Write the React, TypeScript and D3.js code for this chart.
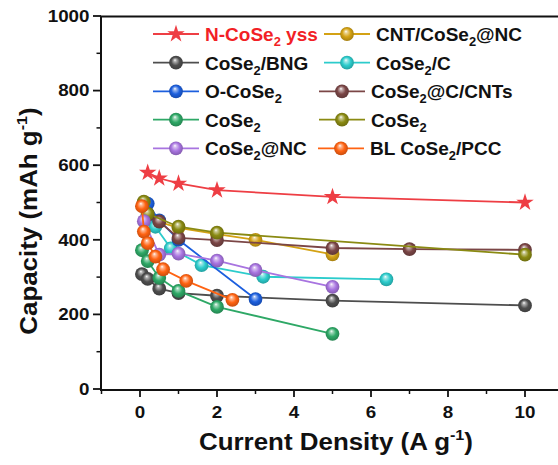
import React from "react";
import * as d3 from "d3";

// ---- data ----
const names = ["N-CoSe2 yss", "CNT/CoSe2@NC", "CoSe2/BNG", "CoSe2/C", "O-CoSe2", "CoSe2@C/CNTs", "CoSe2", "CoSe2 ", "CoSe2@NC", "BL CoSe2/PCC"];
const colors = ["#ee3e44", "#d4a214", "#4e4e4e", "#2ccccc", "#1c5fde", "#7b4646", "#2ea866", "#8a8a12", "#a874e0", "#ff6312"];

const xYss = [0.2, 0.5, 1, 2, 5, 10];
const yYss = [580, 565, 551, 533, 515, 500];
const xCnt = [0.1, 0.2, 0.5, 1, 2, 3, 5];
const yCnt = [500, 468, 448, 432, 415, 400, 361];
const xBng = [0.05, 0.2, 0.5, 1, 2, 5, 10];
const yBng = [308, 295, 269, 257, 250, 237, 224];
const xCC = [0.1, 0.2, 0.4, 0.8, 1.6, 3.2, 6.4];
const yCC = [495, 468, 435, 377, 332, 301, 294];
const xO = [0.2, 0.5, 1, 3];
const yO = [497, 452, 400, 241];
const xCnts = [0.2, 0.5, 1, 2, 5, 7, 10];
const yCnts = [466, 449, 405, 399, 378, 375, 373];
const xGreen = [0.05, 0.2, 0.5, 1, 2, 5];
const yGreen = [372, 343, 298, 263, 220, 148];
const xOlive = [0.1, 0.2, 1, 2, 10];
const yOlive = [502, 470, 435, 419, 360];
const xNC = [0.1, 0.5, 1, 2, 3, 5];
const yNC = [450, 360, 363, 344, 319, 274];
const xBL = [0.05, 0.1, 0.2, 0.4, 0.6, 1.2, 2.4];
const yBL = [490, 422, 391, 355, 321, 290, 239];

const xs = [xYss, xCnt, xBng, xCC, xO, xCnts, xGreen, xOlive, xNC, xBL];
const ys = [yYss, yCnt, yBng, yCC, yO, yCnts, yGreen, yOlive, yNC, yBL];

const xTicks = [0, 2, 4, 6, 8, 10];
const yTicks = [0, 200, 400, 600, 800, 1000];

// legend order (column-wise)
const legendOrder = [0, 2, 4, 6, 8, 1, 3, 5, 7, 9];

const FONT = "'Liberation Sans', Arial, Helvetica, sans-serif";

function Label({ text, size }: { text: string; size: number }) {
  const parts = text.trim().split(/(2)/);
  return (
    <>
      {parts.map((p, i) =>
        p === "2" ? (
          <tspan key={i} fontSize={size * 0.68} dy={size * 0.28}>2</tspan>
        ) : (
          <tspan key={i} dy={i > 0 && parts[i - 1] === "2" ? -size * 0.28 : 0}>{p}</tspan>
        )
      )}
    </>
  );
}

function Sym({ color, star, x, y, id }: { color: string; star: boolean; x: number; y: number; id: string }) {
  if (star) {
    const p = d3.symbol(d3.symbolStar, 95)();
    return <path d={p || ""} transform={`translate(${x},${y})`} fill={color} />;
  }
  return <circle cx={x} cy={y} r={6.9} fill={`url(#${id})`} />;
}

export default function App() {
  const W = 558, H = 465;
  const x = d3.scaleLinear().domain([-1, 11.5]).range([101.5, 582.75]);
  const y = d3.scaleLinear().domain([0, 1000]).range([389, 16]);
  const line = d3.line<[number, number]>().x(d => x(d[0])).y(d => y(d[1]));
  const xMinor = d3.range(-1, 11.5, 1).filter(v => v % 2 !== 0);
  const yMinor = d3.range(100, 1000, 200);
  const sxT = 1.08;
  const sxL = 1.0;

  return (
    <svg width={W} height={H} style={{ position: "absolute", left: 0, top: 0, background: "#fff" }} fontFamily={FONT}>
      <defs>
        {colors.map((c, i) => {
          const dark = d3.color(c)!.darker(0.8).formatHex();
          const light = d3.interpolateRgb(c, "#ffffff")(0.55);
          return (
            <radialGradient key={i} id={`g${i}`} cx="0.5" cy="0.5" r="0.55" fx="0.42" fy="0.3">
              <stop offset="0%" stopColor="#ffffff" />
              <stop offset="18%" stopColor={light} />
              <stop offset="55%" stopColor={c} />
              <stop offset="100%" stopColor={dark} />
            </radialGradient>
          );
        })}
      </defs>
      <rect width={W} height={H} fill="#fff" />

      {/* series */}
      {xs.map((xv, i) => {
        const pts = xv.map((v, j) => [v, ys[i][j]] as [number, number]);
        return (
          <g key={i}>
            <path d={line(pts) || ""} fill="none" stroke={colors[i]} strokeWidth={1.8} />
            {pts.map((p, j) => (
              <Sym key={j} color={colors[i]} star={i === 0} x={x(p[0])} y={y(p[1])} id={`g${i}`} />
            ))}
          </g>
        );
      })}

      {/* axes frame */}
      <line x1={101} x2={101} y1={16} y2={390} stroke="#111" strokeWidth={2} />
      <line x1={100} x2={W} y1={390} y2={390} stroke="#111" strokeWidth={2} />
      <line x1={100} x2={W} y1={16.5} y2={16.5} stroke="#111" strokeWidth={2} />

      {/* y ticks */}
      {yTicks.map(t => (
        <g key={t}>
          <line x1={93} x2={101} y1={y(t)} y2={y(t)} stroke="#111" strokeWidth={1.8} />
          <g transform={`translate(89.5,${y(t) + 5.8}) scale(1.16,1)`}>
            <text textAnchor="end" fontSize={16.2} fontWeight="bold" fill="#111">{t}</text>
          </g>
        </g>
      ))}
      {yMinor.map(t => (
        <line key={t} x1={96.5} x2={101} y1={y(t)} y2={y(t)} stroke="#111" strokeWidth={1.5} />
      ))}

      {/* x ticks */}
      {xTicks.map(t => (
        <g key={t}>
          <line x1={x(t)} x2={x(t)} y1={390} y2={397} stroke="#111" strokeWidth={1.8} />
          <g transform={`translate(${x(t)},${417.5}) scale(1.16,1)`}>
            <text textAnchor="middle" fontSize={16.2} fontWeight="bold" fill="#111">{t}</text>
          </g>
        </g>
      ))}
      {xMinor.map(t => (
        <line key={t} x1={x(t)} x2={x(t)} y1={390} y2={394} stroke="#111" strokeWidth={1.5} />
      ))}

      {/* axis titles */}
      <g transform={`translate(336,450) scale(${sxT},1)`}>
        <text textAnchor="middle" fontSize={24} fontWeight="bold" fill="#111">
          Current Density (A g<tspan fontSize={15} dy={-10}>-1</tspan><tspan dy={10}>)</tspan>
        </text>
      </g>
      <g transform={`translate(37,221) rotate(-90) scale(${sxT},1)`}>
        <text textAnchor="middle" fontSize={24} fontWeight="bold" fill="#111">
          Capacity (mAh g<tspan fontSize={15} dy={-10}>-1</tspan><tspan dy={10}>)</tspan>
        </text>
      </g>

      {/* legend */}
      {legendOrder.map((si, k) => {
        const col = k < 5 ? 0 : 1;
        const row = k % 5;
        const ry = [34, 62.7, 91.3, 119.7, 148.3][row];
        const x1 = col === 0 ? 153 : row < 2 ? 324 : row < 4 ? 319 : 318;
        const x2 = x1 + 46;
        const tx = x2 + 6;
        return (
          <g key={k}>
            <line x1={x1} x2={x2} y1={ry} y2={ry} stroke={colors[si]} strokeWidth={1.8} />
            <Sym color={colors[si]} star={si === 0} x={(x1 + x2) / 2} y={ry} id={`g${si}`} />
            <g transform={`translate(${tx},${ry + 6.8}) scale(${sxL},1)`}>
              <text fontSize={19} fontWeight="bold" fill={si === 0 ? "#f21f26" : "#111"}>
                <Label text={names[si]} size={19} />
              </text>
            </g>
          </g>
        );
      })}
    </svg>
  );
}
